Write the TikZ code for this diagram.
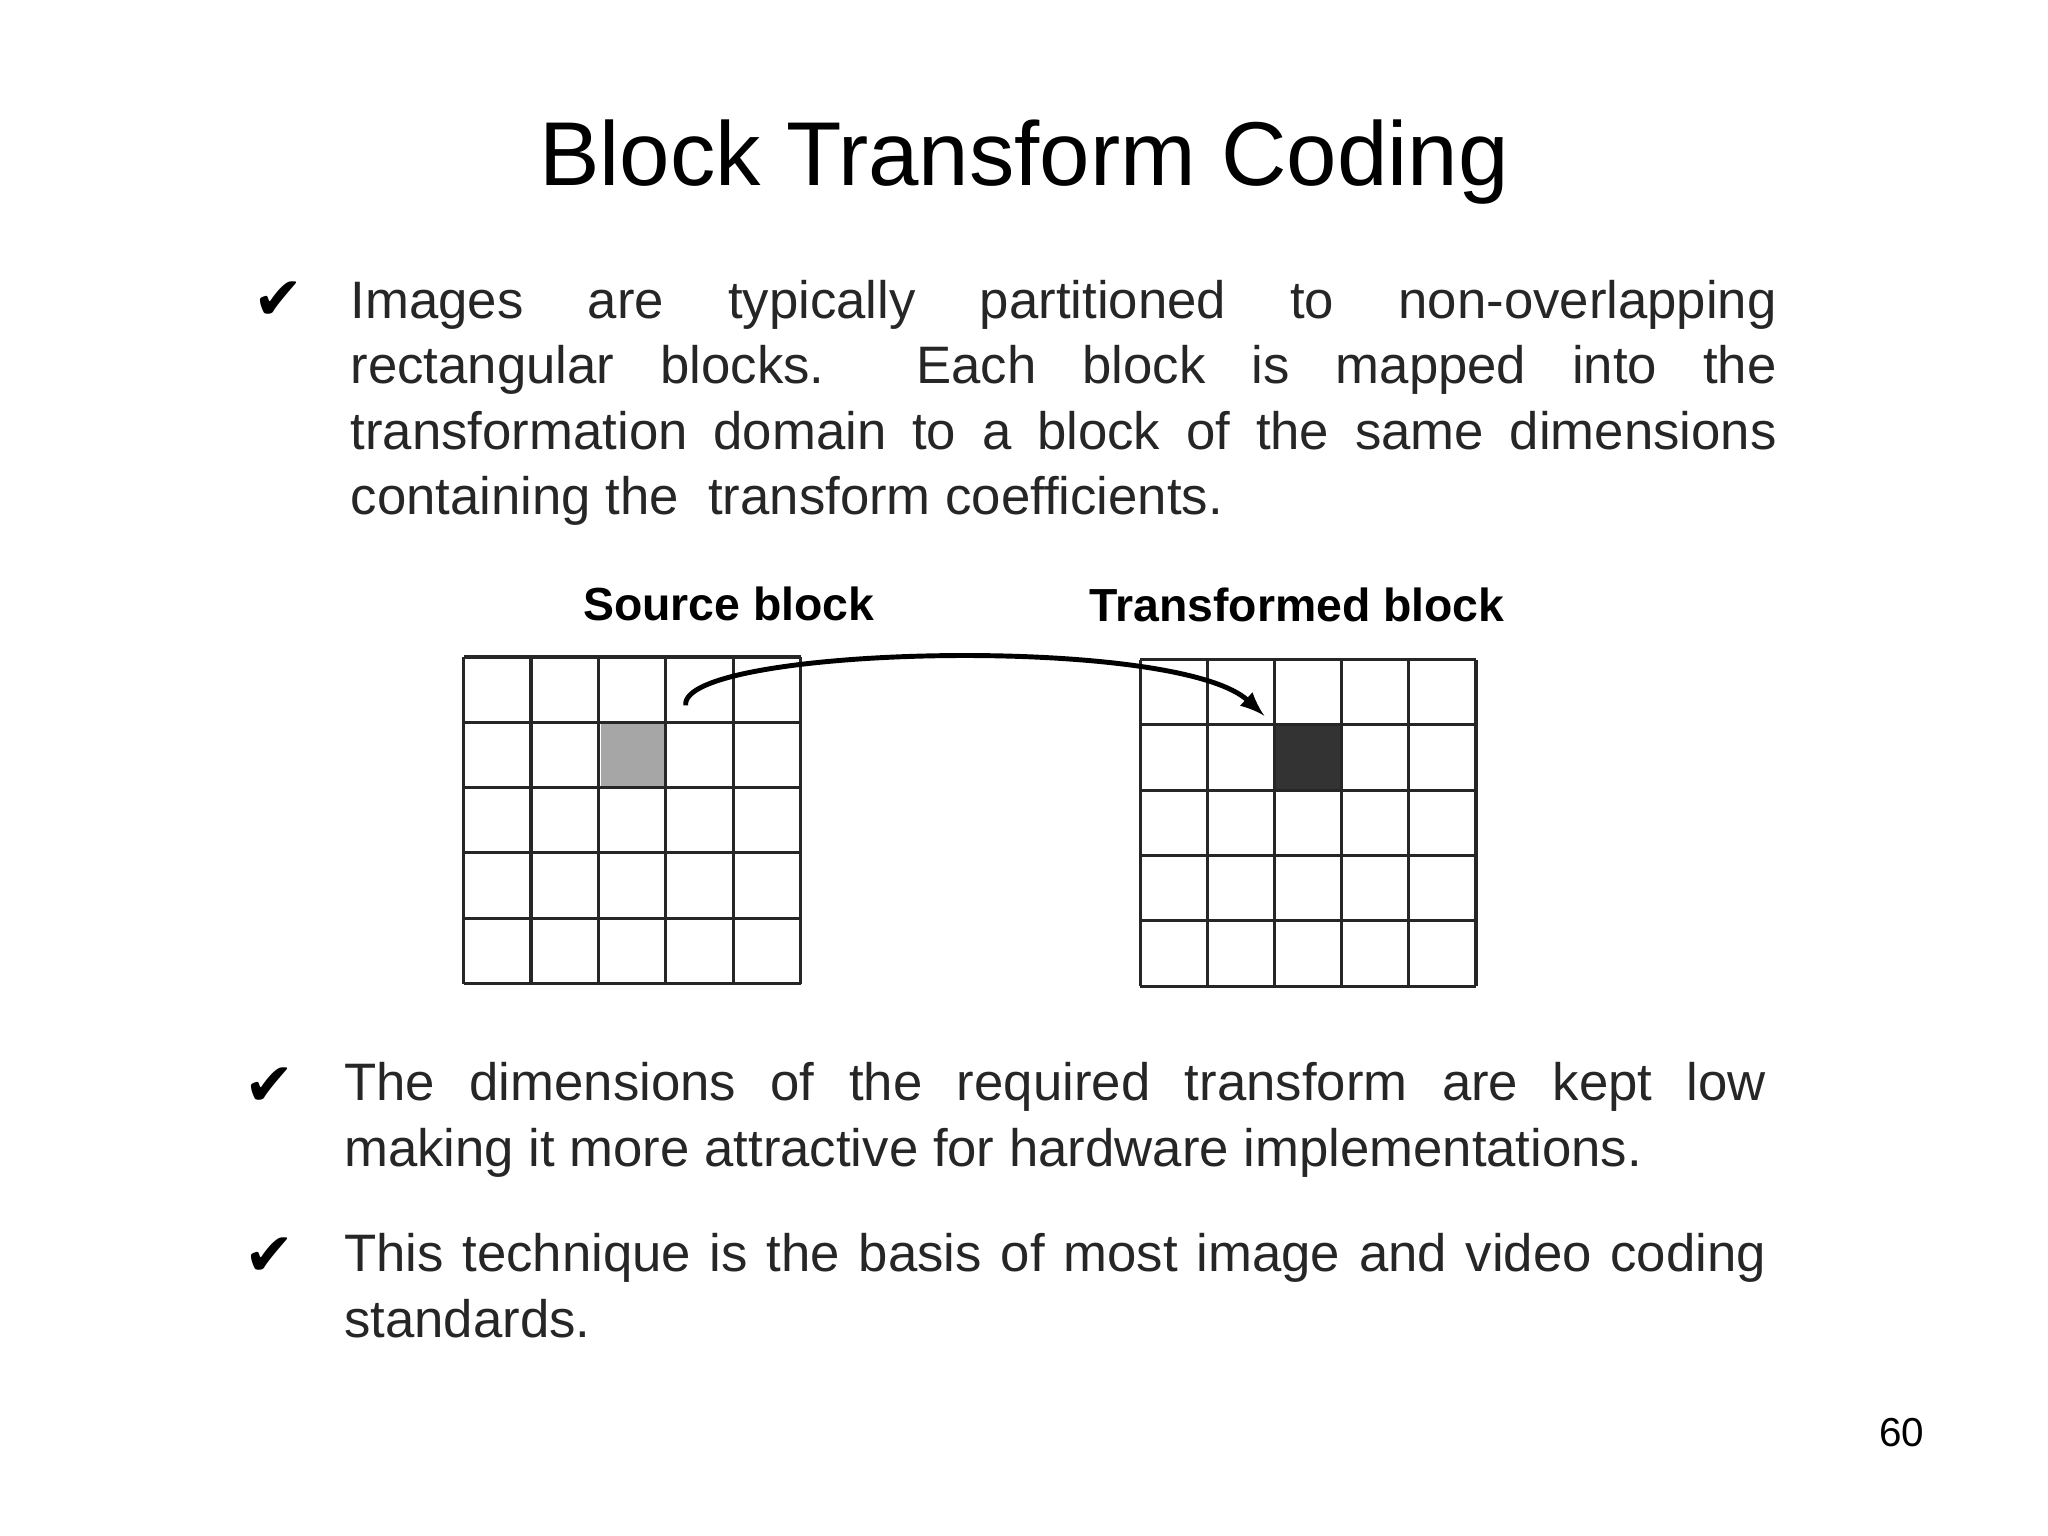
\documentclass[tikz,border=0pt]{standalone}
\usepackage{fontspec}
\setmainfont{Liberation Sans}
\newfontfamily\symfont{DejaVu Sans}
\frenchspacing
\begin{document}
\begin{tikzpicture}[x=0.01306cm,y=-0.01306cm,
  para/.style={anchor=north west,inner sep=0pt,align=justify,font=\fontsize{15}{18.6}\selectfont,text=black!85},
  chk/.style={anchor=north,inner sep=0pt,font=\symfont\fontsize{17}{17}\selectfont},
  lbl/.style={font=\bfseries\fontsize{13.2}{14}\selectfont,inner sep=0pt},
  gridline/.style={line width=0.9pt,black!85}]
\useasboundingbox (0,0) rectangle (1568,1176);
\node[font=\fontsize{25.8}{30}\selectfont] (title) at (784,124) {Block Transform Coding};
\node[chk] (c1) at (213,215) {✔};
\node[para,text width=14.26cm] (p1) at (268,214) {Images are typically partitioned to non-overlapping\linebreak rectangular blocks.\ \ Each block is mapped into the\linebreak transformation domain to a block of the same dimensions\linebreak containing the\ \ transform coefficients.\par};
\node[lbl] (ls) at (558,462) {Source block};
\node[lbl] (lt) at (993,463) {Transformed block};
\fill[black!35] (460,553) rectangle (511,603);
\fill[black!80] (977,555) rectangle (1028,605);
\foreach \i in {0,...,5}{\draw[gridline] (355+51.6*\i,503)--(355+51.6*\i,753); \draw[gridline] (355,503+50*\i)--(613,503+50*\i);}
\foreach \i in {0,...,5}{\draw[gridline] (873+51.4*\i,505)--(873+51.4*\i,755); \draw[gridline] (873,505+50*\i)--(1130,505+50*\i);}
\coordinate (a1) at (525,540);
\coordinate (a2) at (968,548);
\draw[line width=1.4pt,-latex] (a1) .. controls (520,495) and (900,485) .. (a2);
\node[chk] (c2) at (206,817) {✔};
\node[para,text width=14.22cm] (p2) at (263,813) {The dimensions of the required transform are kept low\linebreak making it more attractive for hardware implementations.\par};
\node[chk] (c3) at (206,947) {✔};
\node[para,text width=14.22cm] (p3) at (263,944) {This technique is the basis of most image and video coding\linebreak standards.\par};
\node[font=\fontsize{11.5}{13}\selectfont] (pn) at (1456,1097) {60};
\end{tikzpicture}
\end{document}
